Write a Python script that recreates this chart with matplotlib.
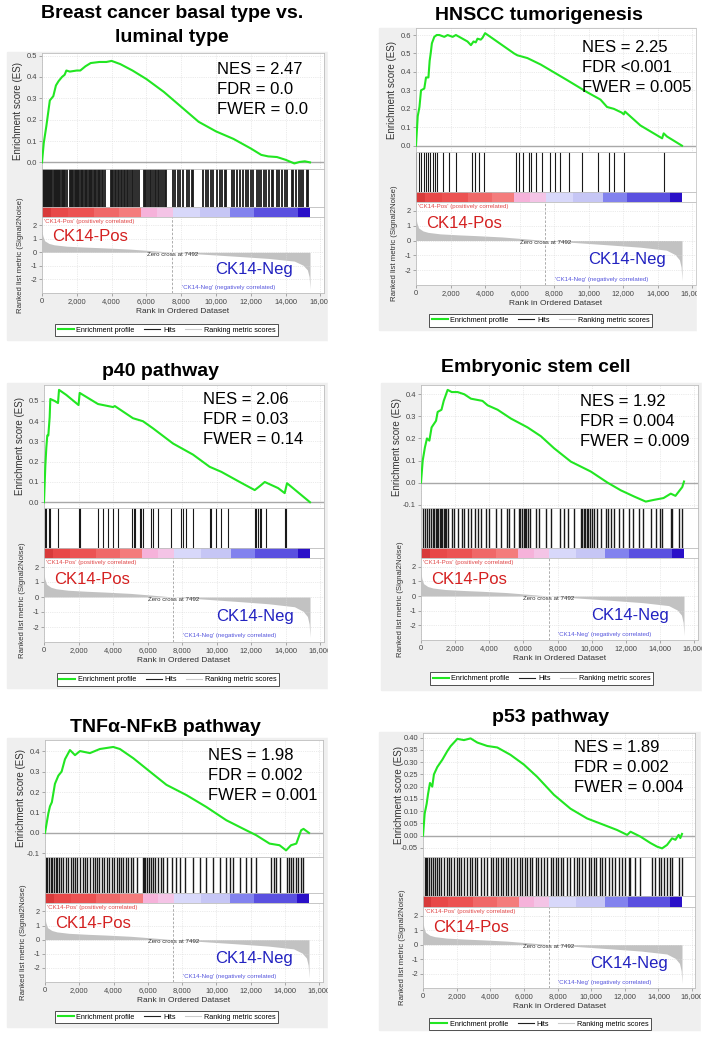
import matplotlib
matplotlib.use('Agg')
import matplotlib.pyplot as plt
from matplotlib.lines import Line2D
from matplotlib.patches import Rectangle
from matplotlib.ticker import FuncFormatter, FormatStrFormatter

# Figure size (pixels at 100 dpi)
FIG_W = 708
FIG_H = 1038
DPI = 100

plt.rcParams['font.family'] = ['Liberation Sans', 'DejaVu Sans']
plt.rcParams['axes.unicode_minus'] = False

# ---------------- data ----------------
N_GENES = 15400
ZERO_CROSS = 7492

# ranked list metric (Signal2Noise), same dataset for all six panels
metric_rank = [0, 50, 150, 400, 700, 1400, 2500, 3500, 5000, 6500, 7492, 9000,
               11000, 13000, 14500, 15000, 15250, 15350, 15400]
metric_val = [1.55, 1.2, 0.85, 0.65, 0.55, 0.45, 0.38, 0.33, 0.24, 0.1, 0.0, -0.12,
              -0.28, -0.45, -0.65, -0.95, -1.3, -1.8, -2.7]

# red -> blue rank colour bar
bar_edges = [0, 500, 1500, 3000, 4400, 5700, 6600, 7500, 9100, 10800, 12200, 14700, 15400]
bar_colors = ['#d83a3a', '#e84848', '#ec5252', '#f06868', '#f47c7c', '#f6b2da',
              '#f4c4e6', '#d8d8fa', '#c6c6f5', '#8282ee', '#5a50e0', '#2a10c8']

titles = ['Breast cancer basal type vs.\nluminal type', 'HNSCC tumorigenesis',
          'p40 pathway', 'Embryonic stem cell',
          'TNF\u03b1-NF\u03baB pathway', 'p53 pathway']

stats = [['NES = 2.47', 'FDR = 0.0', 'FWER = 0.0'],
         ['NES = 2.25', 'FDR <0.001', 'FWER = 0.005'],
         ['NES = 2.06', 'FDR = 0.03', 'FWER = 0.14'],
         ['NES = 1.92', 'FDR = 0.004', 'FWER = 0.009'],
         ['NES = 1.98', 'FDR = 0.002', 'FWER = 0.001'],
         ['NES = 1.89', 'FDR = 0.002', 'FWER = 0.004']]

es_rank_1 = [0, 100, 250, 450, 650, 800, 950, 1150, 1300, 1400, 1600, 2000, 2200, 2500,
             2800, 3300, 3700, 4000, 4500, 5200, 6000, 7000, 8000, 9000, 10000, 11000,
             12000, 12600, 13000, 13500, 14000, 14500, 14800, 15100, 15400]
es_val_1 = [0, 0.09, 0.17, 0.29, 0.31, 0.36, 0.38, 0.40, 0.41, 0.43, 0.425, 0.43, 0.43, 0.45,
            0.465, 0.47, 0.47, 0.475, 0.46, 0.43, 0.39, 0.33, 0.26, 0.19, 0.145, 0.11,
            0.065, 0.035, 0.028, 0.025, 0.012, -0.005, 0.002, 0.005, 0.0]
hits_1 = [40, 100, 160, 230, 290, 350, 420, 480, 540, 600, 680, 740, 800, 870, 930, 1000,
          1060, 1130, 1200, 1280, 1350, 1420, 1600, 1660, 1720, 1800, 1870, 1930, 2000,
          2080, 2150, 2230, 2300, 2370, 2450, 2520, 2600, 2680, 2760, 2830, 2900, 2980,
          3050, 3130, 3200, 3280, 3360, 3430, 3520, 3600, 3950, 4020, 4100, 4180, 4260,
          4340, 4420, 4520, 4600, 4700, 4780, 4870, 4960, 5050, 5150, 5250, 5350, 5450,
          5560, 5850, 5920, 6000, 6100, 6180, 6280, 6380, 6470, 6560, 6660, 6750, 6850,
          6950, 7050, 7140, 7550, 7650, 7800, 7950, 8100, 8310, 8450, 8600, 8700, 9270,
          9400, 9550, 9700, 9850, 10030, 10200, 10350, 10500, 10600, 10900, 11050, 11200,
          11350, 11560, 11700, 11850, 12000, 12130, 12330, 12450, 12600, 12750, 12900,
          13050, 13200, 13300, 13480, 13600, 13780, 13950, 14050, 14340, 14450, 14600,
          14750, 14900, 15000, 15200, 15300]

es_rank_2 = [0, 100, 200, 290, 480, 580, 720, 790, 850, 920, 1060, 1200, 1350, 1640, 1830,
             2120, 2310, 2600, 2980, 3180, 3330, 3460, 3560, 3750, 3850, 4000, 5680, 5870,
             6450, 7220, 8760, 9910, 10680, 11060, 11450, 11900, 12030, 12100, 12990, 14250,
             14340, 14530, 15400]
es_val_2 = [0, 0.16, 0.21, 0.30, 0.31, 0.37, 0.37, 0.46, 0.50, 0.555, 0.59, 0.60, 0.60, 0.59,
            0.60, 0.59, 0.60, 0.585, 0.565, 0.545, 0.565, 0.56, 0.58, 0.575, 0.585, 0.61,
            0.50, 0.49, 0.475, 0.44, 0.355, 0.29, 0.25, 0.21, 0.20, 0.18, 0.17, 0.185, 0.11,
            0.04, 0.067, 0.05, 0.0]
hits_2 = [0, 154, 309, 444, 579, 695, 830, 965, 1081, 1216, 1544, 1930, 2316, 3242, 3397,
          3628, 3918, 5790, 5944, 6195, 6562, 6639, 6948, 7295, 7778, 8029, 8357, 8840,
          9612, 10538, 11156, 11445, 12063, 14341]

es_rank_3 = [0, 77, 135, 190, 250, 328, 367, 620, 810, 870, 1290, 2000, 2065, 3030, 3130,
             3420, 3710, 4000, 4100, 5150, 5730, 6310, 7470, 8630, 9590, 10270, 11330,
             12200, 12500, 12780, 13550, 13935, 14070, 15400]
es_val_3 = [0, 0.18, 0.27, 0.33, 0.33, 0.42, 0.51, 0.50, 0.49, 0.555, 0.53, 0.48, 0.54, 0.49,
            0.485, 0.48, 0.475, 0.47, 0.475, 0.415, 0.40, 0.365, 0.29, 0.235, 0.175, 0.15,
            0.10, 0.06, 0.08, 0.10, 0.07, 0.045, 0.094, 0.0]
hits_3 = [40, 135, 290, 330, 810, 2030, 2065, 3130, 3420, 3710, 4000, 4290, 5120, 5190,
          5250, 5540, 5640, 5730, 6220, 6310, 6600, 7330, 7950, 8050, 8240, 8630, 9590,
          9690, 9980, 10270, 10650, 12200, 12290, 12390, 12530, 12580, 12870, 13940, 14030]

es_rank_4 = [0, 100, 230, 350, 490, 620, 880, 975, 1200, 1330, 1560, 1800, 2145, 2535, 2925,
             3600, 3900, 4485, 5265, 6240, 7020, 7800, 8775, 9945, 10920, 11700, 12480,
             13160, 13650, 14200, 14625, 14900, 15300, 15400]
es_val_4 = [0, 0.10, 0.16, 0.20, 0.19, 0.25, 0.28, 0.32, 0.33, 0.37, 0.42, 0.41, 0.41, 0.40,
            0.38, 0.37, 0.35, 0.33, 0.29, 0.25, 0.21, 0.155, 0.095, 0.05, 0.0, -0.035,
            -0.063, -0.086, -0.078, -0.07, -0.05, -0.06, -0.02, 0.005]
hits_4 = [98, 234, 351, 488, 585, 702, 780, 858, 936, 1014, 1092, 1170, 1248, 1326, 1404,
          1482, 1560, 1794, 1950, 2184, 2379, 2535, 2769, 2925, 3159, 3354, 3510, 3803,
          3998, 4388, 4680, 5031, 5168, 5460, 5714, 5811, 5909, 6006, 6084, 6162, 6240,
          6396, 6728, 6923, 7313, 7605, 8151, 8346, 8580, 8970, 9360, 9438, 9516, 9594,
          9692, 9789, 9867, 9984, 10101, 10296, 10530, 10823, 10959, 11154, 11310, 11603,
          11856, 12188, 12441, 12773, 13026, 13455, 13748, 14001, 14138, 14625, 14723,
          15113, 15308]

es_rank_5 = [0, 194, 290, 400, 580, 780, 970, 1165, 1455, 1750, 2040, 2620, 3200, 3980,
             4370, 5150, 6115, 7085, 8250, 9410, 10580, 11740, 12320, 13100, 13680, 14065,
             14350, 14660, 14940, 15080, 15400]
es_val_5 = [0, 0.095, 0.13, 0.15, 0.24, 0.28, 0.30, 0.36, 0.405, 0.38, 0.40, 0.39, 0.41,
            0.42, 0.41, 0.365, 0.30, 0.235, 0.185, 0.127, 0.062, 0.013, -0.011, -0.052,
            -0.06, -0.085, -0.06, -0.052, 0.013, 0.02, 0.0]
hits_5 = [58, 136, 233, 330, 427, 524, 621, 718, 816, 913, 1068, 1204, 1359, 1495, 1651,
          1767, 1884, 2039, 2194, 2350, 2466, 2622, 2777, 2913, 3010, 3165, 3301, 3437,
          3593, 3748, 3884, 4020, 4175, 4292, 4408, 4564, 4719, 4855, 4991, 5146, 5341,
          5690, 5768, 5845, 5923, 6040, 6156, 6273, 6409, 6603, 6739, 6894, 7088, 7380,
          7632, 7865, 8176, 8642, 9030, 9419, 9807, 10196, 10584, 10817, 10972, 11361,
          11749, 12040, 12293, 13206, 13341, 13497, 13691, 14118, 14234, 14351, 14468,
          14662, 14778, 14953, 15050]

es_rank_6 = [0, 100, 218, 300, 415, 550, 650, 850, 1150, 1445, 1640, 1840, 2040, 2435, 2830,
             3230, 3820, 4415, 5200, 6000, 6790, 7780, 8770, 9760, 10750, 11540, 12140,
             12340, 12930, 13520, 13920, 14215, 14510, 14810, 15010, 15200, 15300, 15400]
es_val_6 = [0, 0.09, 0.13, 0.17, 0.215, 0.20, 0.25, 0.28, 0.31, 0.345, 0.365, 0.38, 0.395,
            0.39, 0.397, 0.38, 0.366, 0.36, 0.33, 0.29, 0.24, 0.167, 0.11, 0.07, 0.044,
            0.023, 0.003, 0.016, -0.004, -0.03, -0.045, -0.052, -0.038, -0.011, -0.017,
            0.003, -0.01, 0.007]
hits_6 = [99, 178, 257, 356, 455, 574, 693, 812, 950, 1089, 1247, 1406, 1544, 1683, 1841,
          2000, 2138, 2277, 2435, 2633, 2792, 2930, 3069, 3227, 3425, 3623, 3821, 4019,
          4178, 4316, 4455, 4613, 4772, 4910, 5049, 5207, 5405, 5603, 5762, 5900, 6039,
          6197, 6356, 6494, 6692, 6831, 6989, 7187, 7385, 7583, 7742, 7880, 8019, 8177,
          8336, 8534, 8732, 8969, 9128, 9266, 9464, 9662, 9860, 9999, 10157, 10316, 10514,
          10652, 10850, 11048, 11246, 11444, 11642, 11840, 12038, 12236, 12335, 12632,
          12929, 13622, 13820, 14018, 14157, 14315, 14513, 14672, 14810, 15206, 15400]

es_ranks = [es_rank_1, es_rank_2, es_rank_3, es_rank_4, es_rank_5, es_rank_6]
es_vals = [es_val_1, es_val_2, es_val_3, es_val_4, es_val_5, es_val_6]
hits = [hits_1, hits_2, hits_3, hits_4, hits_5, hits_6]

# ---------------- layout (pixels) ----------------
# box: gray panel x0, y0, x1, y1; left/end: x pixel of rank 0 / last rank
# rows: ES top, ES bottom, hits bottom, colour bar bottom, metric bottom
LAYOUT = [
    dict(box=(7, 52, 328, 340), left=42, end=310, rows=(53, 169, 207, 217, 293),
         title=(172, 13), nes=(217, 70), legend=(58, 275, 330), hit_lw=1.3,
         ylim=(-0.031, 0.512), yticks=[0, 0.1, 0.2, 0.3, 0.4, 0.5], yfmt='%.1f'),
    dict(box=(379, 28, 697, 330), left=416, end=682, rows=(28, 152, 192, 202, 285),
         title=(539, 15), nes=(582, 47), legend=(432, 649, 320.5), hit_lw=0.8,
         ylim=(-0.034, 0.638), yticks=[0, 0.1, 0.2, 0.3, 0.4, 0.5, 0.6], yfmt='%.1f'),
    dict(box=(7, 383, 328, 688), left=44, end=310, rows=(385, 507.7, 548, 558, 642),
         title=(160, 372), nes=(203, 400), legend=(60, 276, 679.5), hit_lw=0.8,
         ylim=(-0.027, 0.579), yticks=[0, 0.1, 0.2, 0.3, 0.4, 0.5], yfmt='%.1f'),
    dict(box=(381, 383, 702, 690), left=421, end=684, rows=(385, 508, 548, 558, 640),
         title=(536, 367), nes=(580, 402), legend=(432, 651, 678.5), hit_lw=1.0,
         ylim=(-0.115, 0.442), yticks=[-0.1, 0, 0.1, 0.2, 0.3, 0.4], yfmt='%.1f'),
    dict(box=(7, 738, 328, 1027), left=45, end=309, rows=(740, 856.7, 893, 903, 982),
         title=(165, 727), nes=(208, 755), legend=(58, 275, 1017), hit_lw=1.0,
         ylim=(-0.116, 0.454), yticks=[-0.1, 0, 0.1, 0.2, 0.3, 0.4], yfmt='%.1f'),
    dict(box=(379, 732, 701, 1030), left=423, end=682, rows=(733, 856.7, 896, 907, 988),
         title=(551, 718), nes=(574, 748), legend=(431, 649, 1024), hit_lw=1.0,
         ylim=(-0.086, 0.419), yticks=[-0.05, 0, 0.05, 0.1, 0.15, 0.2, 0.25, 0.3, 0.35, 0.4],
         yfmt='%.2f'),
]

X_MAX = 16200
SPINE = '#bdbdbd'
GRID = '#d8d8d8'
TICK_COLOR = '#444444'


def rect(x0, y0, x1, y1):
    return [x0 / FIG_W, 1 - y1 / FIG_H, (x1 - x0) / FIG_W, (y1 - y0) / FIG_H]


def fx(x):
    return x / FIG_W


def fy(y):
    return 1 - y / FIG_H


def style_axes(ax):
    for s in ax.spines.values():
        s.set_color(SPINE)
        s.set_linewidth(0.6)
    ax.tick_params(length=2, width=0.5, color='#888888', labelsize=5.4,
                   labelcolor=TICK_COLOR, pad=1.5)
    ax.set_xlim(0, X_MAX)


def draw_panel(fig, lay, title, stat, es_r, es_v, hit_r):
    bx0, by0, bx1, by1 = lay['box']
    fig.add_artist(Rectangle((fx(bx0), fy(by1)), (bx1 - bx0) / FIG_W, (by1 - by0) / FIG_H,
                             transform=fig.transFigure, color='#efefef', zorder=-1))
    left = lay['left']
    right = left + (lay['end'] - left) * X_MAX / N_GENES
    r0, r1, r2, r3, r4 = lay['rows']

    # enrichment score
    ax = fig.add_axes(rect(left, r0, right, r1))
    style_axes(ax)
    ax.plot(es_r, es_v, color='#22e622', lw=1.5, zorder=3)
    ax.axhline(0, color='#a8a8a8', lw=1.0, zorder=2)
    ax.set_ylim(*lay['ylim'])
    ax.set_yticks(lay['yticks'])
    ax.yaxis.set_major_formatter(FormatStrFormatter(lay['yfmt']))
    ax.set_xticks(range(0, 16001, 2000))
    ax.tick_params(axis='x', length=0, labelbottom=False)
    ax.grid(True, color=GRID, lw=0.5, ls=':')
    fig.text(fx(left - 24), fy((r0 + r1) / 2), 'Enrichment score (ES)', rotation=90,
             ha='center', va='center', fontsize=7, color='#333333')

    # hits
    axh = fig.add_axes(rect(left, r1, right, r2))
    style_axes(axh)
    axh.vlines(hit_r, 0, 1, color='#1a1a1a', lw=lay['hit_lw'])
    axh.set_ylim(0, 1)
    axh.set_xticks([])
    axh.set_yticks([])

    # colour bar
    axc = fig.add_axes(rect(left, r2, right, r3))
    style_axes(axc)
    widths = [b - a for a, b in zip(bar_edges[:-1], bar_edges[1:])]
    axc.barh(0.5, widths, left=bar_edges[:-1], height=1, color=bar_colors, lw=0)
    axc.set_ylim(0, 1)
    axc.set_xticks([])
    axc.set_yticks([])

    # ranked list metric
    axm = fig.add_axes(rect(left, r3, right, r4))
    style_axes(axm)
    axm.fill_between(metric_rank, metric_val, 0, color='#c2c2c2', lw=0)
    axm.axvline(ZERO_CROSS, color='#a0a0a0', lw=0.6, ls=(0, (3, 2)))
    axm.set_ylim(-3.0, 2.6)
    axm.set_yticks([-2, -1, 0, 1, 2])
    axm.set_xticks(range(0, 16001, 2000))
    axm.xaxis.set_major_formatter(FuncFormatter(lambda v, p: f'{int(v):,}'))
    axm.grid(True, color=GRID, lw=0.5, ls=':')
    axm.set_xlabel('Rank in Ordered Dataset', fontsize=6, color='#333333', labelpad=2)
    fig.text(fx(left - 21), fy((r3 + r4) / 2), 'Ranked list metric (Signal2Noise)',
             rotation=90, ha='center', va='center', fontsize=5.6, color='#333333')
    axm.text(100, 2.3, "'CK14-Pos' (positively correlated)", fontsize=4.4,
             color='#e04848', va='center')
    axm.text(ZERO_CROSS, -0.15, 'Zero cross at 7492', fontsize=4.4, color='#333333',
             ha='center', va='center')
    axm.text(8050, -2.6, "'CK14-Neg' (negatively correlated)", fontsize=4.4,
             color='#5555dd', va='center')
    axm.text(600, 1.15, 'CK14-Pos', fontsize=12, color='#d42020', va='center')
    axm.text(9950, -1.3, 'CK14-Neg', fontsize=12, color='#2222c0', va='center')

    # title
    tx, ty = lay['title']
    for i, line in enumerate(title.split('\n')):
        fig.text(fx(tx), fy(ty + i * 24), line, ha='center', va='center',
                 fontsize=14, fontweight='bold')

    # statistics
    nx, ny = lay['nes']
    for i, line in enumerate(stat):
        fig.text(fx(nx), fy(ny + i * 20), line, ha='left', va='center', fontsize=12)

    # legend
    lx0, lx1, ly = lay['legend']
    handles = [Line2D([], [], color='#22e622', lw=1.5),
               Line2D([], [], color='#202020', lw=0.8),
               Line2D([], [], color='#cccccc', lw=0.8)]
    leg = fig.legend(handles, ['Enrichment profile', 'Hits', 'Ranking metric scores'],
                     loc='center', bbox_to_anchor=(fx((lx0 + lx1) / 2), fy(ly)), ncol=3,
                     fontsize=5.2, frameon=True, fancybox=False, edgecolor='#333333',
                     framealpha=1, borderpad=0.35, handlelength=2.2, handletextpad=0.4,
                     columnspacing=1.3, borderaxespad=0)
    leg.get_frame().set_linewidth(0.6)

    # crop on the right like the screenshot
    col_end = 354 if bx1 < 354 else FIG_W
    fig.add_artist(Rectangle((fx(bx1), fy(by1 + 4)), (col_end - bx1) / FIG_W,
                             (by1 - by0 + 8) / FIG_H, transform=fig.transFigure,
                             color='white', zorder=10))


fig = plt.figure(figsize=(FIG_W / DPI, FIG_H / DPI), dpi=DPI)
for k in range(6):
    draw_panel(fig, LAYOUT[k], titles[k], stats[k], es_ranks[k], es_vals[k], hits[k])

fig.savefig('out.png', dpi=DPI)
